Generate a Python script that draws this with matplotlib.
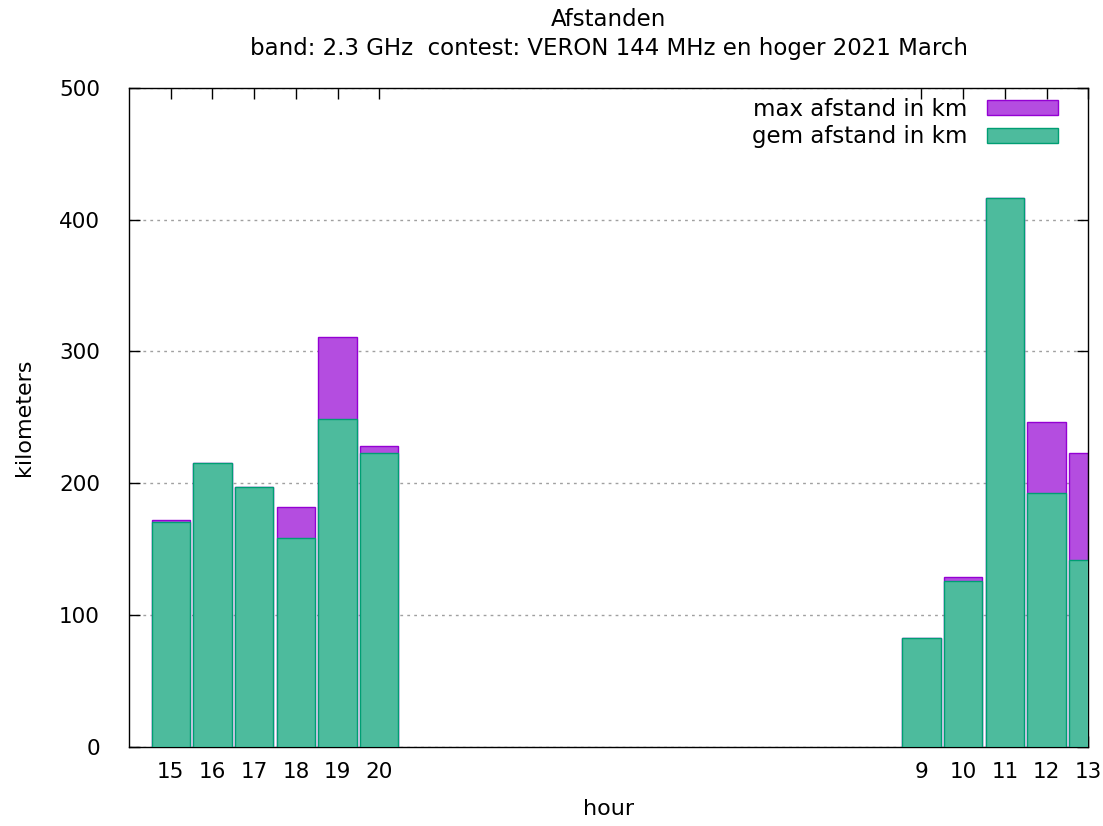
import matplotlib.pyplot as plt
import numpy as np

# hours in the order they appear on the axis (slot index = hours since 15:00)
hours = [15, 16, 17, 18, 19, 20, 9, 10, 11, 12, 13]
slots = [0, 1, 2, 3, 4, 5, 18, 19, 20, 21, 22]
gem_km = [170.3, 215.3, 197.1, 158.2, 248.7, 222.9, 82.5, 125.8, 416.6, 192.8, 142.0]
max_km = [172.3, 215.3, 197.1, 181.9, 311.2, 228.0, 82.5, 129.1, 416.6, 246.4, 222.9]

purple_fill = '#B44DE0'
purple_edge = '#9400D3'
green_fill = '#4DBB9D'
green_edge = '#009E73'

fig = plt.figure(figsize=(11.03, 8.26), dpi=100)
ax = fig.add_axes([0.117, 0.0959, 0.8697, 0.7976])

ax.bar(slots, max_km, width=0.92, color=purple_fill, edgecolor=purple_edge,
       linewidth=1.0, label='max afstand in km', zorder=2)
ax.bar(slots, gem_km, width=0.92, color=green_fill, edgecolor=green_edge,
       linewidth=1.0, label='gem afstand in km', zorder=3)

ax.set_xlim(-1, 22)
ax.set_ylim(0, 500)
ax.set_xticks(slots)
ax.set_xticklabels([str(h) for h in hours])
ax.set_yticks(np.arange(0, 501, 100))

ax.yaxis.grid(True, color='#a0a0a0', linestyle=(0, (2, 3)), linewidth=1, zorder=0)
ax.set_axisbelow(True)

ax.tick_params(direction='in', length=8, width=1, top=True, right=True,
               labelsize=15.5, colors='black')
ax.tick_params(axis='y', pad=21)
ax.tick_params(axis='x', pad=11)
for s in ax.spines.values():
    s.set_linewidth(1)

ax.set_xlabel('hour', fontsize=16, labelpad=12)
ax.set_ylabel('kilometers', fontsize=16, labelpad=18)
ax.set_title('Afstanden\nband: 2.3 GHz  contest: VERON 144 MHz en hoger 2021 March',
             fontsize=16.5, pad=24, linespacing=1.3)

leg = ax.legend(loc='upper right', frameon=False, markerfirst=False, fontsize=16.5,
                handlelength=3.1, handleheight=0.6, handletextpad=0.85,
                borderaxespad=0, borderpad=0, labelspacing=0.2,
                bbox_to_anchor=(0.968, 0.985))

fig.savefig('out.png', dpi=100)
